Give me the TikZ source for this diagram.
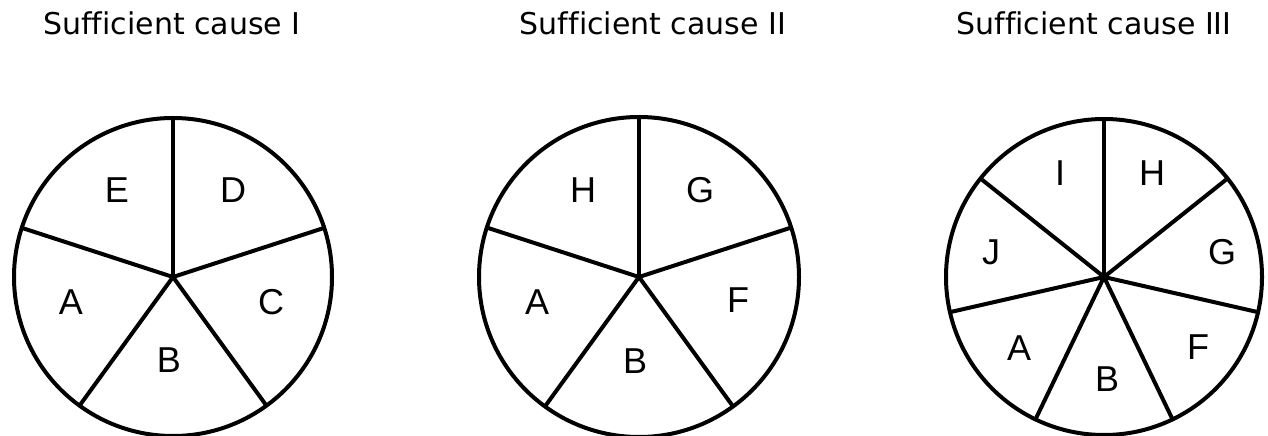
\documentclass[tikz,border=0pt]{standalone}
\usepackage{fontspec}
\setmainfont{Liberation Sans}
\newfontfamily\titlefont[Ligatures=NoCommon]{DejaVu Sans}
\usetikzlibrary{positioning}
\tikzset{
  title/.style={anchor=base,font=\titlefont\fontsize{30}{36}\selectfont},
  part/.style={font=\fontsize{36}{40}\selectfont,inner sep=0pt},
  pie/.style={draw=black,line width=4pt}
}

\begin{document}
\begin{tikzpicture}[x=1pt,y=1pt]
      \useasboundingbox (0,0) rectangle (1268,436);
      % titles
      \node[title] (t1) at (172,401) {Sufficient cause I};
      \node[title] (t2) at (653,401) {Sufficient cause II};
      \node[title] (t3) at (1094,401) {Sufficient cause III};
      % cause I
      \coordinate (c1) at (173,159);
      \draw[pie] (c1) circle (159);
      \draw[pie] (c1) -- ++(90:159);
      \draw[pie] (c1) -- ++(18:159);
      \draw[pie] (c1) -- ++(-54:159);
      \draw[pie] (c1) -- ++(-126:159);
      \draw[pie] (c1) -- ++(162:159);
      \node[part] (e1) at (117,246) {E};
      \node[part] (d1) at (233,246) {D};
      \node[part] (c1l) at (271,134) {C};
      \node[part] (b1) at (169,76) {B};
      \node[part] (a1) at (71,134) {A};
      % cause II
      \coordinate (c2) at (639,159);
      \draw[pie] (c2) circle (160);
      \draw[pie] (c2) -- ++(90:160);
      \draw[pie] (c2) -- ++(18:160);
      \draw[pie] (c2) -- ++(-54:160);
      \draw[pie] (c2) -- ++(-126:160);
      \draw[pie] (c2) -- ++(162:160);
      \node[part] (h2) at (583,246) {H};
      \node[part] (g2) at (700,246) {G};
      \node[part] (f2) at (738,136) {F};
      \node[part] (b2) at (635,75) {B};
      \node[part] (a2) at (537,134) {A};
      % cause III
      \coordinate (c3) at (1104,159);
      \draw[pie] (c3) circle (158);
      \draw[pie] (c3) -- ++(90:158);
      \draw[pie] (c3) -- ++(38.57:158);
      \draw[pie] (c3) -- ++(-12.86:158);
      \draw[pie] (c3) -- ++(-64.29:158);
      \draw[pie] (c3) -- ++(-115.71:158);
      \draw[pie] (c3) -- ++(-167.14:158);
      \draw[pie] (c3) -- ++(141.43:158);
      \node[part] (i3) at (1060,263) {I};
      \node[part] (h3) at (1152,263) {H};
      \node[part] (g3) at (1222,184) {G};
      \node[part] (f3) at (1198,89) {F};
      \node[part] (b3) at (1107,57) {B};
      \node[part] (a3) at (1019,88) {A};
      \node[part] (j3) at (991,184) {J};
    \end{tikzpicture}
\end{document}
